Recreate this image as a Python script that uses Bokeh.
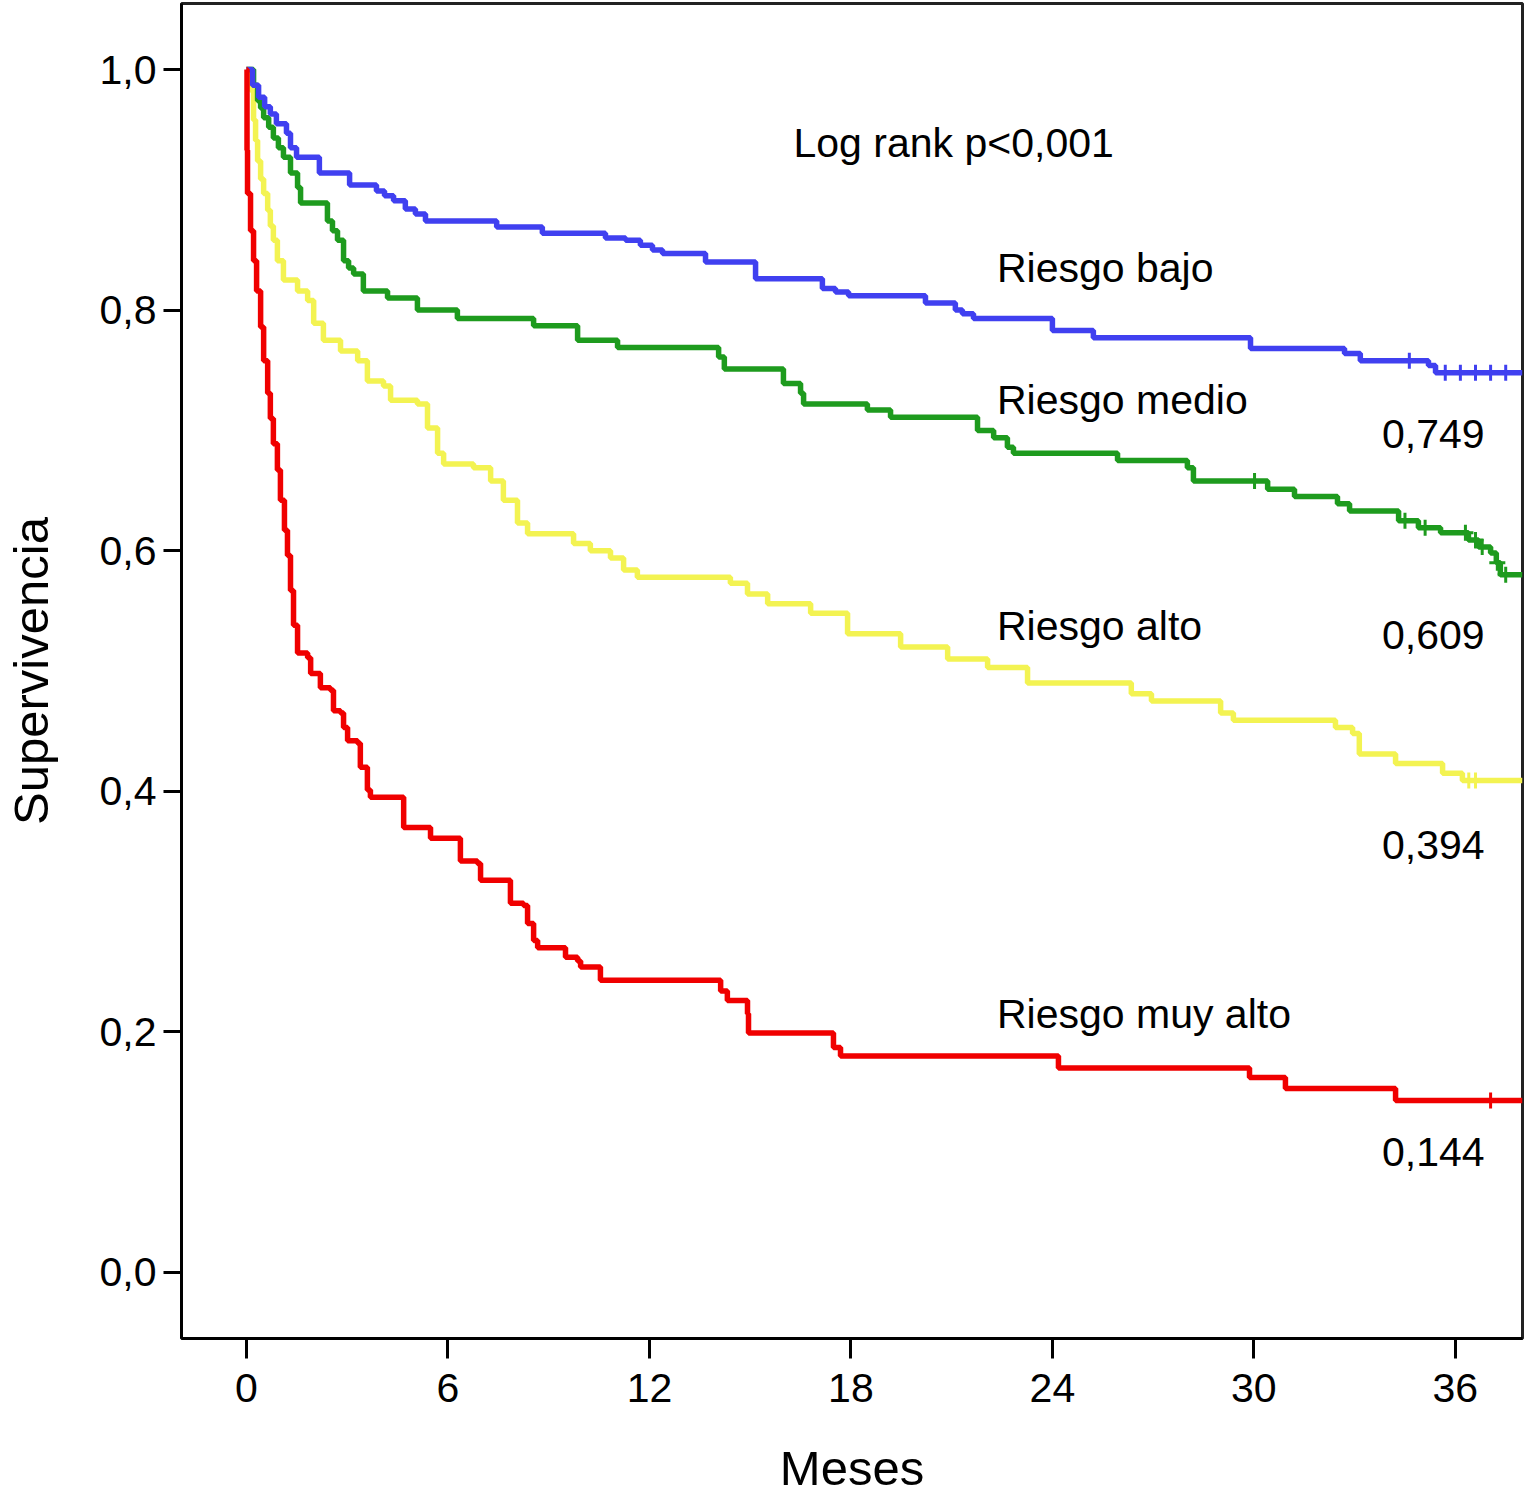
from bokeh.plotting import figure
from bokeh.models import Range1d, FixedTicker, Label, CustomJSTickFormatter
from bokeh.embed import file_html
from bokeh.resources import INLINE

# Kaplan-Meier curves (months, survival)
bajo_t = [0, 0.18, 0.36, 0.54, 0.71, 0.89, 1.19, 1.31, 1.49, 2.17, 3.07, 3.87, 4.11, 4.38,
          4.73, 5.03, 5.33, 7.45, 8.81, 10.69, 11.29, 11.73, 12.09, 12.39, 13.67, 15.16,
          17.15, 17.54, 17.93, 20.22, 21.11, 21.32, 21.65, 24.00, 25.22, 29.90, 32.70,
          33.17, 35.20, 35.41, 38.0]
bajo_s = [1.0, 0.987, 0.977, 0.969, 0.963, 0.955, 0.947, 0.935, 0.927, 0.914, 0.904, 0.899,
          0.895, 0.891, 0.884, 0.880, 0.874, 0.869, 0.864, 0.860, 0.858, 0.854, 0.850,
          0.847, 0.840, 0.826, 0.818, 0.815, 0.812, 0.806, 0.800, 0.797, 0.793, 0.783,
          0.777, 0.768, 0.764, 0.758, 0.754, 0.748, 0.748]

medio_t = [0, 0.21, 0.33, 0.42, 0.51, 0.66, 0.80, 0.95, 1.10, 1.31, 1.52, 1.61, 2.41, 2.56,
           2.71, 2.89, 3.04, 3.19, 3.48, 4.20, 5.09, 6.28, 8.55, 9.86, 11.05, 14.06, 14.23,
           15.99, 16.50, 16.59, 18.49, 19.18, 21.77, 22.25, 22.66, 22.84, 25.94, 28.02,
           28.20, 30.41, 31.21, 32.49, 32.85, 34.31, 34.90, 35.56, 36.39, 36.69, 37.05,
           37.22, 37.34, 38.0]
medio_s = [1.0, 0.987, 0.974, 0.968, 0.960, 0.952, 0.943, 0.935, 0.927, 0.914, 0.902, 0.889,
           0.874, 0.866, 0.858, 0.841, 0.835, 0.830, 0.816, 0.810, 0.800, 0.793, 0.787,
           0.775, 0.769, 0.761, 0.751, 0.739, 0.731, 0.722, 0.717, 0.711, 0.700, 0.694,
           0.686, 0.681, 0.675, 0.669, 0.658, 0.651, 0.645, 0.639, 0.633, 0.625, 0.619,
           0.615, 0.609, 0.603, 0.598, 0.590, 0.580, 0.580]

alto_t = [0, 0.12, 0.21, 0.27, 0.33, 0.42, 0.51, 0.63, 0.71, 0.80, 0.92, 1.10, 1.52, 1.82,
          2.00, 2.29, 2.80, 3.31, 3.60, 4.08, 4.29, 5.09, 5.39, 5.69, 5.87, 6.76, 7.27,
          7.65, 8.07, 8.37, 9.74, 10.24, 10.84, 11.23, 11.64, 14.41, 14.92, 15.52, 16.80,
          17.90, 19.48, 20.88, 22.07, 23.26, 26.35, 26.95, 29.01, 29.39, 32.43, 32.94,
          33.14, 34.22, 35.62, 36.21, 38.0]
alto_s = [1.0, 0.983, 0.958, 0.941, 0.924, 0.909, 0.897, 0.883, 0.870, 0.858, 0.841, 0.825,
          0.816, 0.808, 0.789, 0.775, 0.766, 0.758, 0.741, 0.737, 0.725, 0.722, 0.702,
          0.681, 0.672, 0.669, 0.658, 0.642, 0.623, 0.614, 0.606, 0.600, 0.594, 0.584,
          0.578, 0.573, 0.564, 0.556, 0.548, 0.531, 0.520, 0.510, 0.503, 0.490, 0.481,
          0.475, 0.465, 0.459, 0.453, 0.448, 0.431, 0.423, 0.415, 0.409, 0.409]

muyalto_t = [0, 0.015, 0.03, 0.12, 0.21, 0.30, 0.42, 0.51, 0.63, 0.71, 0.80, 0.92, 1.01,
             1.13, 1.22, 1.31, 1.40, 1.52, 1.82, 1.91, 2.20, 2.50, 2.59, 2.80, 2.89, 3.01,
             3.31, 3.39, 3.60, 3.69, 4.68, 5.48, 6.37, 6.88, 6.97, 7.86, 8.25, 8.37, 8.55,
             8.67, 9.50, 9.86, 9.95, 10.54, 14.12, 14.32, 14.92, 14.95, 17.48, 17.69, 24.18,
             29.87, 30.94, 34.22, 38.0]
muyalto_s = [1.0, 0.933, 0.897, 0.866, 0.841, 0.816, 0.786, 0.758, 0.731, 0.710, 0.689,
             0.667, 0.642, 0.617, 0.596, 0.567, 0.538, 0.515, 0.511, 0.498, 0.486, 0.484,
             0.467, 0.465, 0.453, 0.442, 0.440, 0.420, 0.401, 0.395, 0.370, 0.361, 0.342,
             0.340, 0.326, 0.307, 0.305, 0.290, 0.276, 0.270, 0.262, 0.259, 0.254, 0.243,
             0.234, 0.226, 0.215, 0.199, 0.187, 0.180, 0.170, 0.162, 0.153, 0.143, 0.143]

# censored cases (+ marks)
bajo_cens_t = [34.63, 35.7, 36.15, 36.6, 37.05, 37.5]
bajo_cens_s = [0.758, 0.748, 0.748, 0.748, 0.748, 0.748]
medio_cens_t = [30.02, 34.5, 35.1, 36.3, 36.6, 36.8, 37.25, 37.5]
medio_cens_s = [0.658, 0.625, 0.619, 0.615, 0.609, 0.603, 0.590, 0.580]
alto_cens_t = [36.4, 36.6]
alto_cens_s = [0.409, 0.409]
muyalto_cens_t = [37.05]
muyalto_cens_s = [0.143]

group_names = ["Riesgo bajo", "Riesgo medio", "Riesgo alto", "Riesgo muy alto"]
final_values = ["0,749", "0,609", "0,394", "0,144"]
colors = ["#4040f0", "#1e9b1e", "#f3f352", "#f00000"]

x_ticks = [0, 6, 12, 18, 24, 30, 36]
y_ticks = [0.0, 0.2, 0.4, 0.6, 0.8, 1.0]

FONT = "Liberation Sans"

p = figure(width=1525, height=1499, output_backend="svg", toolbar_location=None,
           x_range=Range1d(-1.936, 38.0), y_range=Range1d(-0.0549, 1.0549),
           min_border_left=181, min_border_right=3, min_border_top=3,
           min_border_bottom=161)
p.xgrid.visible = False
p.ygrid.visible = False
p.outline_line_color = "#222222"
p.outline_line_width = 3

curves = [(bajo_t, bajo_s, bajo_cens_t, bajo_cens_s),
          (medio_t, medio_s, medio_cens_t, medio_cens_s),
          (alto_t, alto_s, alto_cens_t, alto_cens_s),
          (muyalto_t, muyalto_s, muyalto_cens_t, muyalto_cens_s)]
# yellow first, red on top
for i in [2, 1, 0, 3]:
    t, s, ct, cs = curves[i]
    p.step(t, s, mode="after", line_width=5.5, color=colors[i])
    p.scatter(ct, cs, marker="cross", size=16, line_width=3, color=colors[i])

# axes
p.xaxis.ticker = FixedTicker(ticks=x_ticks)
p.yaxis.ticker = FixedTicker(ticks=y_ticks)
p.yaxis.formatter = CustomJSTickFormatter(code="return tick.toFixed(1).replace('.', ',');")
p.axis.axis_line_width = 3
p.axis.axis_line_color = "black"
p.axis.major_tick_line_width = 3
p.axis.major_tick_line_color = "black"
p.axis.major_tick_in = 0
p.yaxis.major_tick_out = 18
p.xaxis.major_tick_out = 20
p.axis.minor_tick_line_color = None
p.axis.major_label_text_font = FONT
p.axis.major_label_text_font_size = "41px"
p.axis.major_label_text_color = "black"
p.yaxis.major_label_standoff = 7
p.xaxis.major_label_standoff = 15

p.xaxis.axis_label = "Meses"
p.yaxis.axis_label = "Supervivencia"
p.axis.axis_label_text_font = FONT
p.axis.axis_label_text_font_size = "49px"
p.axis.axis_label_text_font_style = "normal"
p.axis.axis_label_text_color = "black"
p.xaxis.axis_label_standoff = 36
p.yaxis.axis_label_standoff = 39

# annotations
p.add_layout(Label(x=16.29, y=0.939, text="Log rank p<0,001", text_font=FONT,
                   text_font_size="41px", text_color="black",
                   text_baseline="alphabetic", text_align="left"))
name_y = [0.835, 0.725, 0.537, 0.2145]
value_y = [0.697, 0.530, 0.355, 0.0998]
for name, ny in zip(group_names, name_y):
    p.add_layout(Label(x=22.35, y=ny, text=name, text_font=FONT, text_font_size="41px",
                       text_color="black", text_baseline="alphabetic", text_align="left"))
for val, vy in zip(final_values, value_y):
    p.add_layout(Label(x=36.87, y=vy, text=val, text_font=FONT, text_font_size="41px",
                       text_color="black", text_baseline="alphabetic", text_align="right"))

open("out.html", "w").write(file_html(p, INLINE))
